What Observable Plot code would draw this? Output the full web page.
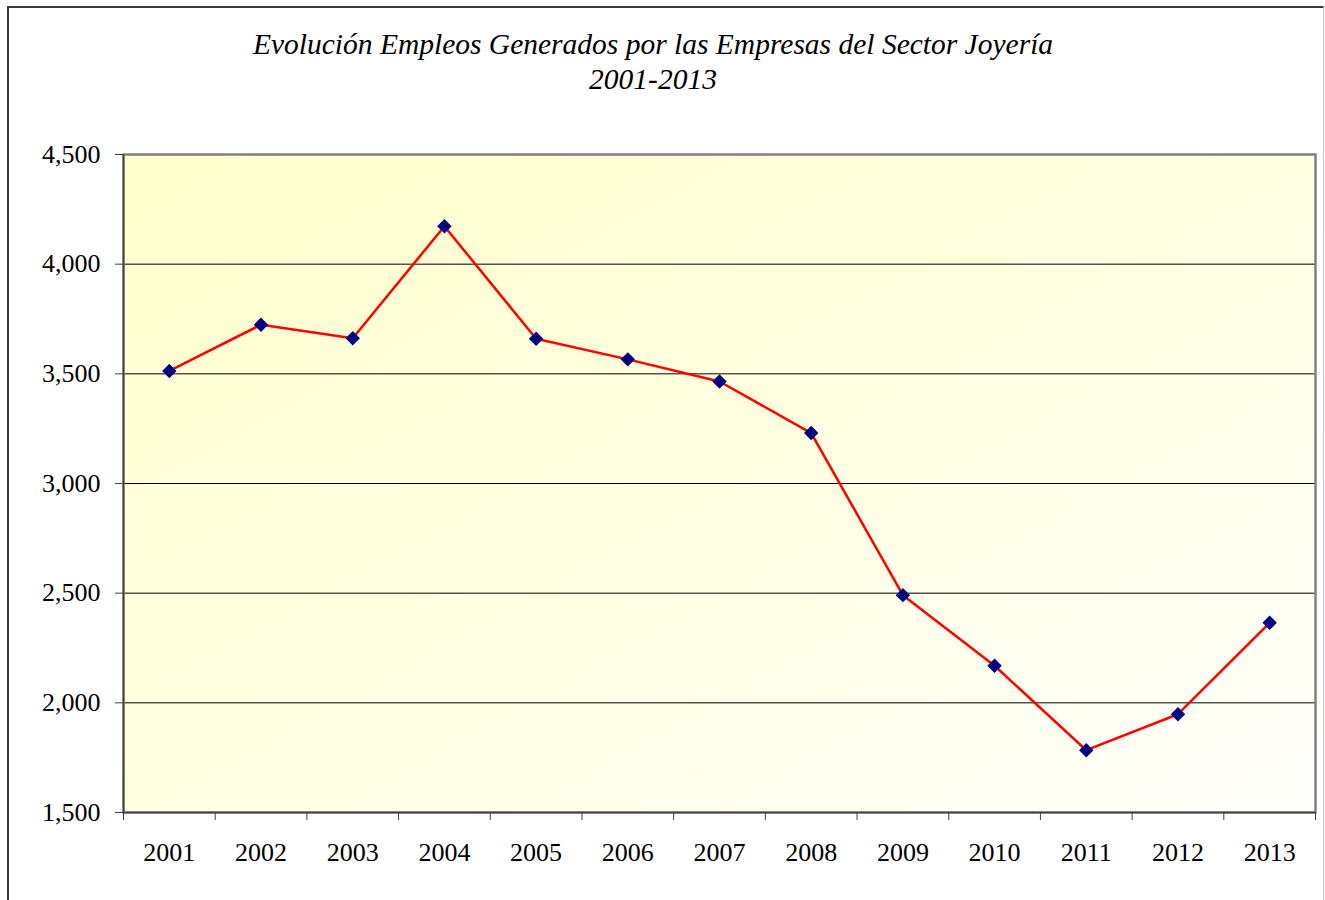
<!DOCTYPE html>
<html>
<head>
<meta charset="utf-8">
<script src="https://cdn.jsdelivr.net/npm/d3@7"></script>
<script src="https://cdn.jsdelivr.net/npm/@observablehq/plot@0.6"></script>
<style>
  body { margin: 0; background: #fff; }
  #wrap { position: relative; width: 1325px; height: 900px; overflow: hidden; }
  #border { position: absolute; left: 7px; top: 6px; width: 1314px; height: 910px;
            border-left: 2px solid #3a3a3a; border-top: 2px solid #3a3a3a; border-right: 1px solid #c8c8c8; }
  #top { position: absolute; left: 18px; top: -17px; font: bold 18px "Liberation Sans", Arial, sans-serif; color: #5a5aff; }
  #title { position: absolute; left: 0; top: 27px; width: 1306px; text-align: center;
           font-family: "Liberation Serif", "Times New Roman", serif; font-style: italic; font-size: 29.5px;
           line-height: 35px; color: #000; }
  #chart { position: absolute; left: 0; top: 110px; }
</style>
</head>
<body>
<div id="wrap">
  <div id="top">Gráfico No. 1</div>
  <div id="border"></div>
  <div id="title">Evolución Empleos Generados por las Empresas del Sector Joyería<br>2001-2013</div>
  <div id="chart"></div>
</div>
<script>
const years = [2001, 2002, 2003, 2004, 2005, 2006, 2007, 2008, 2009, 2010, 2011, 2012, 2013];
const empleos = [3513, 3724, 3662, 4173, 3660, 3566, 3465, 3230, 2491, 2169, 1784, 1948, 2365];
const yTicks = [1500, 2000, 2500, 3000, 3500, 4000, 4500];

const data = years.map((year, i) => ({year, value: empleos[i]}));
const xMin = d3.min(years) - 0.5;
const xMax = d3.max(years) + 0.5;
const boundaries = [...years.map(y => y - 0.5), xMax];
const gridTicks = yTicks.slice(1, -1);
const fmt = d3.format(",");

const chart = Plot.plot({
  width: 1325,
  height: 790,
  marginTop: 44,
  marginLeft: 123,
  marginRight: 10,
  marginBottom: 88,
  style: {fontFamily: "'Liberation Serif', 'Times New Roman', serif", fontSize: "26px", color: "#000", background: "transparent"},
  x: {type: "linear", domain: [xMin, xMax]},
  y: {domain: [yTicks[0], yTicks[yTicks.length - 1]]},
  marks: [
    Plot.frame({fill: "url(#bgGrad)"}),
    Plot.gridY(gridTicks, {stroke: "#000", strokeOpacity: 1, strokeWidth: 1}),
    Plot.frame({stroke: "#808080", strokeWidth: 2.5}),
    Plot.ruleX([xMin], {stroke: "#404040", strokeWidth: 1.5}),
    Plot.ruleY([yTicks[0]], {stroke: "#404040", strokeWidth: 1.5}),
    Plot.axisY(yTicks, {tickFormat: d => fmt(d), tickSize: 8, tickPadding: 15, label: null, stroke: "#404040", fontSize: 26}),
    Plot.axisX(years, {tickSize: 0, tickPadding: 30, tickFormat: d => String(d), label: null, fontSize: 26}),
    Plot.axisX(boundaries, {tickSize: 8, tickFormat: () => "", label: null, stroke: "#404040"}),
    Plot.line(data, {x: "year", y: "value", stroke: "#ff0000", strokeWidth: 2.5}),
    Plot.dot(data, {x: "year", y: "value", symbol: "diamond2", r: 6.5, fill: "#000080", stroke: "none"})
  ]
});

const defs = d3.select(chart).insert("defs", ":first-child");
const grad = defs.append("linearGradient").attr("id", "bgGrad")
  .attr("x1", "0").attr("y1", "0").attr("x2", "1").attr("y2", "1");
grad.append("stop").attr("offset", "0").attr("stop-color", "#ffffcc");
grad.append("stop").attr("offset", "0.5").attr("stop-color", "#ffffe2");
grad.append("stop").attr("offset", "1").attr("stop-color", "#fffffb");

document.getElementById("chart").appendChild(chart);
</script>
</body>
</html>
